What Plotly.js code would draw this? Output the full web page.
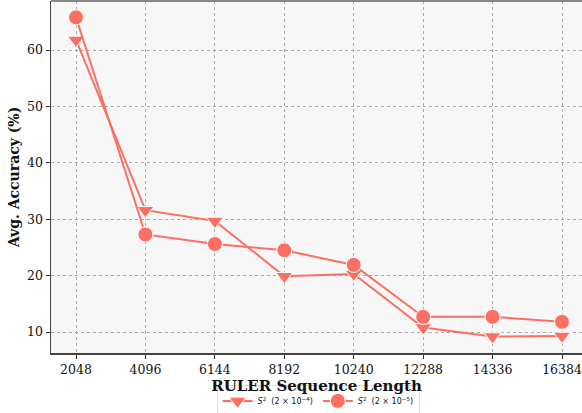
<!DOCTYPE html>
<html><head><meta charset="utf-8">
<script src="https://cdn.plot.ly/plotly-3.0.1.min.js"></script>
<style>body{margin:0;padding:0;background:#fff}#chart{width:582px;height:413px}</style>
</head><body><div id="chart"></div>
<script>
const seqLengths = [2048, 4096, 6144, 8192, 10240, 12288, 14336, 16384];
const tickLabels = ["2048", "4096", "6144", "8192", "10240", "12288", "14336", "16384"];
const accLr1e4 = [61.8, 31.6, 29.7, 19.9, 20.3, 10.8, 9.2, 9.3];
const accLr1e5 = [65.8, 27.3, 25.6, 24.5, 21.9, 12.7, 12.7, 11.8];
const yTicks = [10, 20, 30, 40, 50, 60];
const seriesNames = ["<i>S</i><sup>2</sup>  (2 × 10<sup>−4</sup>)", "<i>S</i><sup>2</sup>  (2 × 10<sup>−5</sup>)"];
const color = "#fe6f63";

const traces = [
  {x: seqLengths, y: accLr1e4, name: seriesNames[0], mode: "lines+markers",
   line: {color: color, width: 2},
   marker: {symbol: "triangle-down", size: 15, color: color, line: {color: "#fff", width: 1}}},
  {x: seqLengths, y: accLr1e5, name: seriesNames[1], mode: "lines+markers",
   line: {color: color, width: 2},
   marker: {symbol: "circle", size: 15, color: color, line: {color: "#fff", width: 1}}}
];

const layout = {
  width: 582, height: 413,
  margin: {l: 51, r: 0, t: 1, b: 60, autoexpand: false},
  paper_bgcolor: "#fff", plot_bgcolor: "#f7f7f7",
  font: {family: "DejaVu Serif", color: "#111"},
  xaxis: {
    range: [1310, 16974], tickvals: seqLengths, ticktext: tickLabels, automargin: false,
    ticks: "outside", ticklen: 4, tickcolor: "#333", tickfont: {size: 12.5, family: "DejaVu Serif"},
    showline: true, linecolor: "#444", linewidth: 1.5, mirror: false,
    showgrid: true, gridcolor: "#999", griddash: "dot", gridwidth: 0.8, zeroline: false,
    title: {text: "<b>RULER Sequence Length</b>", font: {size: 15, family: "DejaVu Serif"}, standoff: 4}
  },
  yaxis: {
    range: [6.28, 68.7], tickvals: yTicks, automargin: false,
    ticks: "outside", ticklen: 4, tickcolor: "#333", tickfont: {size: 12.5, family: "DejaVu Serif"},
    showline: true, linecolor: "#444", linewidth: 1.5,
    showgrid: true, gridcolor: "#999", griddash: "dot", gridwidth: 0.8, zeroline: false,
    title: {text: "<b>Avg. Accuracy (%)</b>", font: {size: 14, family: "DejaVu Serif"}, standoff: 4}
  },
  shapes: [{type: "line", xref: "paper", yref: "paper", x0: 0, x1: 1, y0: 1, y1: 1,
            line: {color: "#888", width: 2}}],
  legend: {orientation: "h", x: 0.503, xanchor: "center", y: -0.092, yanchor: "top",
           font: {size: 8, family: "DejaVu Sans"}, bordercolor: "#ddd", borderwidth: 1,
           bgcolor: "#fff", traceorder: "normal"},
  showlegend: true
};
Plotly.newPlot("chart", traces, layout, {displayModeBar: false, staticPlot: true});
</script></body></html>
